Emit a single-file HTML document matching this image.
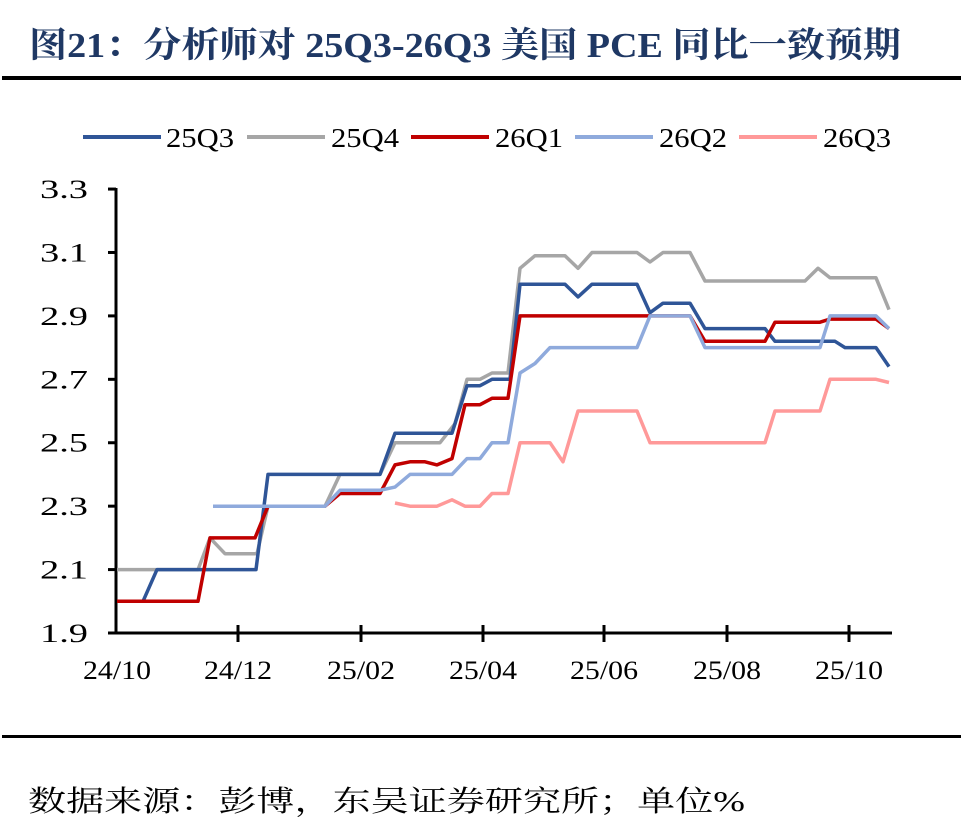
<!DOCTYPE html>
<html><head><meta charset="utf-8"><style>
body{margin:0;background:#fff;width:961px;height:830px;overflow:hidden}
svg text{font-family:"Liberation Serif","Noto Serif CJK SC",serif}
</style></head><body>
<svg id="s" width="961" height="830" xmlns="http://www.w3.org/2000/svg">
<text x="29" y="57" font-size="35" font-weight="bold" fill="#1f3864" textLength="872" lengthAdjust="spacingAndGlyphs">图21：分析师对 25Q3-26Q3 美国 PCE 同比一致预期</text>
<rect x="2" y="76" width="959" height="4" fill="#000"/>
<g stroke-width="4">
<line x1="83" y1="137" x2="161" y2="137" stroke="#2f5597"/>
<line x1="247" y1="137" x2="325" y2="137" stroke="#a6a6a6"/>
<line x1="411" y1="137" x2="489" y2="137" stroke="#c00000"/>
<line x1="575" y1="137" x2="653" y2="137" stroke="#8faadc"/>
<line x1="739" y1="137" x2="817" y2="137" stroke="#ff9999"/>
</g>
<g font-size="27" fill="#000">
<text x="166" y="147" textLength="68" lengthAdjust="spacingAndGlyphs">25Q3</text>
<text x="331" y="147" textLength="68" lengthAdjust="spacingAndGlyphs">25Q4</text>
<text x="495" y="147" textLength="68" lengthAdjust="spacingAndGlyphs">26Q1</text>
<text x="659" y="147" textLength="68" lengthAdjust="spacingAndGlyphs">26Q2</text>
<text x="823" y="147" textLength="68" lengthAdjust="spacingAndGlyphs">26Q3</text>
</g>
<g id="ax" stroke="#000" stroke-width="3" fill="none"></g>
<g id="lab" font-size="26" fill="#000"></g>
<g id="ser" fill="none" stroke-width="3.5" stroke-linejoin="round"></g>
<rect x="2" y="735" width="959" height="3" fill="#000"/>
<text x="28" y="811" font-size="29" fill="#000" textLength="717" lengthAdjust="spacingAndGlyphs">数据来源：彭博，东吴证券研究所；单位%</text>
</svg>
<script>
var NS="http://www.w3.org/2000/svg";
function Y(v){return 633-(v-1.9)*317.1;}
function el(p,t,a,txt){var e=document.createElementNS(NS,t);for(var k in a)e.setAttribute(k,a[k]);if(txt)e.textContent=txt;document.getElementById(p).appendChild(e);}
el("ax","line",{x1:116,y1:188,x2:116,y2:634});
el("ax","line",{x1:115,y1:633,x2:892,y2:633});
for(var i=0;i<8;i++){var v=1.9+i*0.2,y=Y(v);el("ax","line",{x1:108,y1:y,x2:116,y2:y});el("lab","text",{x:40,y:y+9,textLength:48,lengthAdjust:"spacingAndGlyphs"},v.toFixed(1));}
var xs=[117,238,361,483,604,727,849],xl=["24/10","24/12","25/02","25/04","25/06","25/08","25/10"];
xs.forEach(function(x,i){if(i>0)el("ax","line",{x1:x,y1:625,x2:x,y2:642});el("lab","text",{x:x-34,y:679,textLength:68,lengthAdjust:"spacingAndGlyphs"},xl[i]);});
var S=[
["#a6a6a6",[[117,2.1],[198,2.1],[210,2.2],[225,2.15],[257,2.15],[268,2.3],[325,2.3],[340,2.4],[380,2.4],[395,2.5],[440,2.5],[455,2.56],[467,2.7],[480,2.7],[492,2.72],[508,2.72],[520,3.05],[535,3.09],[565,3.09],[578,3.05],[592,3.1],[637,3.1],[650,3.07],[663,3.1],[690,3.1],[705,3.01],[805,3.01],[818,3.05],[830,3.02],[876,3.02],[889,2.92]]],
["#ff9999",[[395,2.31],[410,2.3],[437,2.3],[452,2.32],[465,2.3],[480,2.3],[492,2.34],[508,2.34],[520,2.5],[550,2.5],[563,2.44],[578,2.6],[637,2.6],[650,2.5],[765,2.5],[775,2.6],[820,2.6],[830,2.7],[876,2.7],[889,2.69]]],
["#2f5597",[[117,2.0],[143,2.0],[157,2.1],[256,2.1],[268,2.4],[380,2.4],[395,2.53],[452,2.53],[467,2.68],[480,2.68],[492,2.7],[510,2.7],[520,3.0],[565,3.0],[578,2.96],[592,3.0],[637,3.0],[650,2.91],[663,2.94],[690,2.94],[705,2.86],[765,2.86],[775,2.82],[835,2.82],[845,2.8],[876,2.8],[889,2.74]]],
["#c00000",[[117,2.0],[198,2.0],[210,2.2],[255,2.2],[268,2.3],[325,2.3],[340,2.34],[380,2.34],[395,2.43],[410,2.44],[425,2.44],[437,2.43],[452,2.45],[465,2.62],[480,2.62],[492,2.64],[508,2.64],[520,2.9],[690,2.9],[705,2.82],[765,2.82],[775,2.88],[820,2.88],[830,2.89],[876,2.89],[889,2.86]]],
["#8faadc",[[213,2.3],[325,2.3],[340,2.35],[380,2.35],[395,2.36],[410,2.4],[452,2.4],[467,2.45],[480,2.45],[492,2.5],[508,2.5],[520,2.72],[535,2.75],[550,2.8],[637,2.8],[650,2.9],[690,2.9],[705,2.8],[820,2.8],[830,2.9],[876,2.9],[889,2.86]]]
];
S.forEach(function(s){el("ser","polyline",{stroke:s[0],points:s[1].map(function(p){return p[0]+","+Y(p[1]).toFixed(1)}).join(" ")});});
</script>
</body></html>
